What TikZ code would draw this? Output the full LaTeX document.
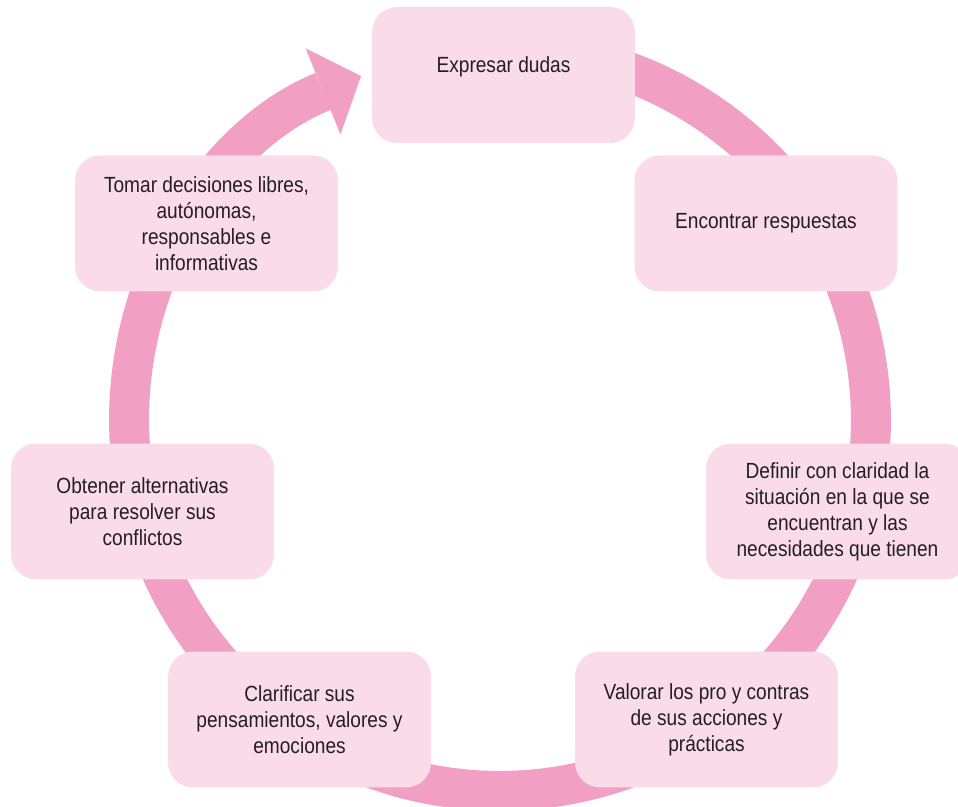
\documentclass[tikz,border=0pt]{standalone}
\usepackage{fontspec}
\setmainfont{Liberation Sans}[FakeStretch=0.87]
\usetikzlibrary{arrows.meta}
\definecolor{ringpink}{RGB}{241,160,196}
\definecolor{boxpink}{RGB}{250,219,233}
\definecolor{inkgray}{RGB}{35,31,32}

\begin{document}
\begin{tikzpicture}[x=0.02cm,y=0.02cm,
  stage/.style={rectangle, rounded corners=0.5cm, fill=boxpink, minimum width=5.26cm, minimum height=2.72cm, align=center, text=inkgray, font=\fontsize{12.5}{14.8}\selectfont},
  ringarrow/.style={draw=ringpink, line width=0.8cm, -{Triangle[length=0.82cm,width=1.86cm,line width=0pt,fill=ringpink]}}]
\useasboundingbox (0,0) rectangle (958,807);
\coordinate (c) at (500,387);
\draw[ringarrow] (c) ++(95:7.42cm) arc[start angle=95, end angle=-248, radius=7.42cm];

\node[stage, text depth=0.41cm](dudas) at (503.5,732) {Expresar dudas};
\node[stage](respuestas) at (766,583.5) {Encontrar respuestas};
\node[stage](situacion) at (837.5,295.5) {Definir con claridad la\\situación en la que se\\encuentran y las\\necesidades que tienen};
\node[stage](valorar) at (706.5,87.5) {Valorar los pro y contras\\de sus acciones y\\prácticas};
\node[stage](clarificar) at (299.5,87.5) {Clarificar sus\\pensamientos, valores y\\emociones};
\node[stage](alternativas) at (142.5,295.5) {Obtener alternativas\\para resolver sus\\conflictos};
\node[stage](decisiones) at (206.5,583.5) {Tomar decisiones libres,\\autónomas,\\responsables e\\informativas};
\end{tikzpicture}
\end{document}
